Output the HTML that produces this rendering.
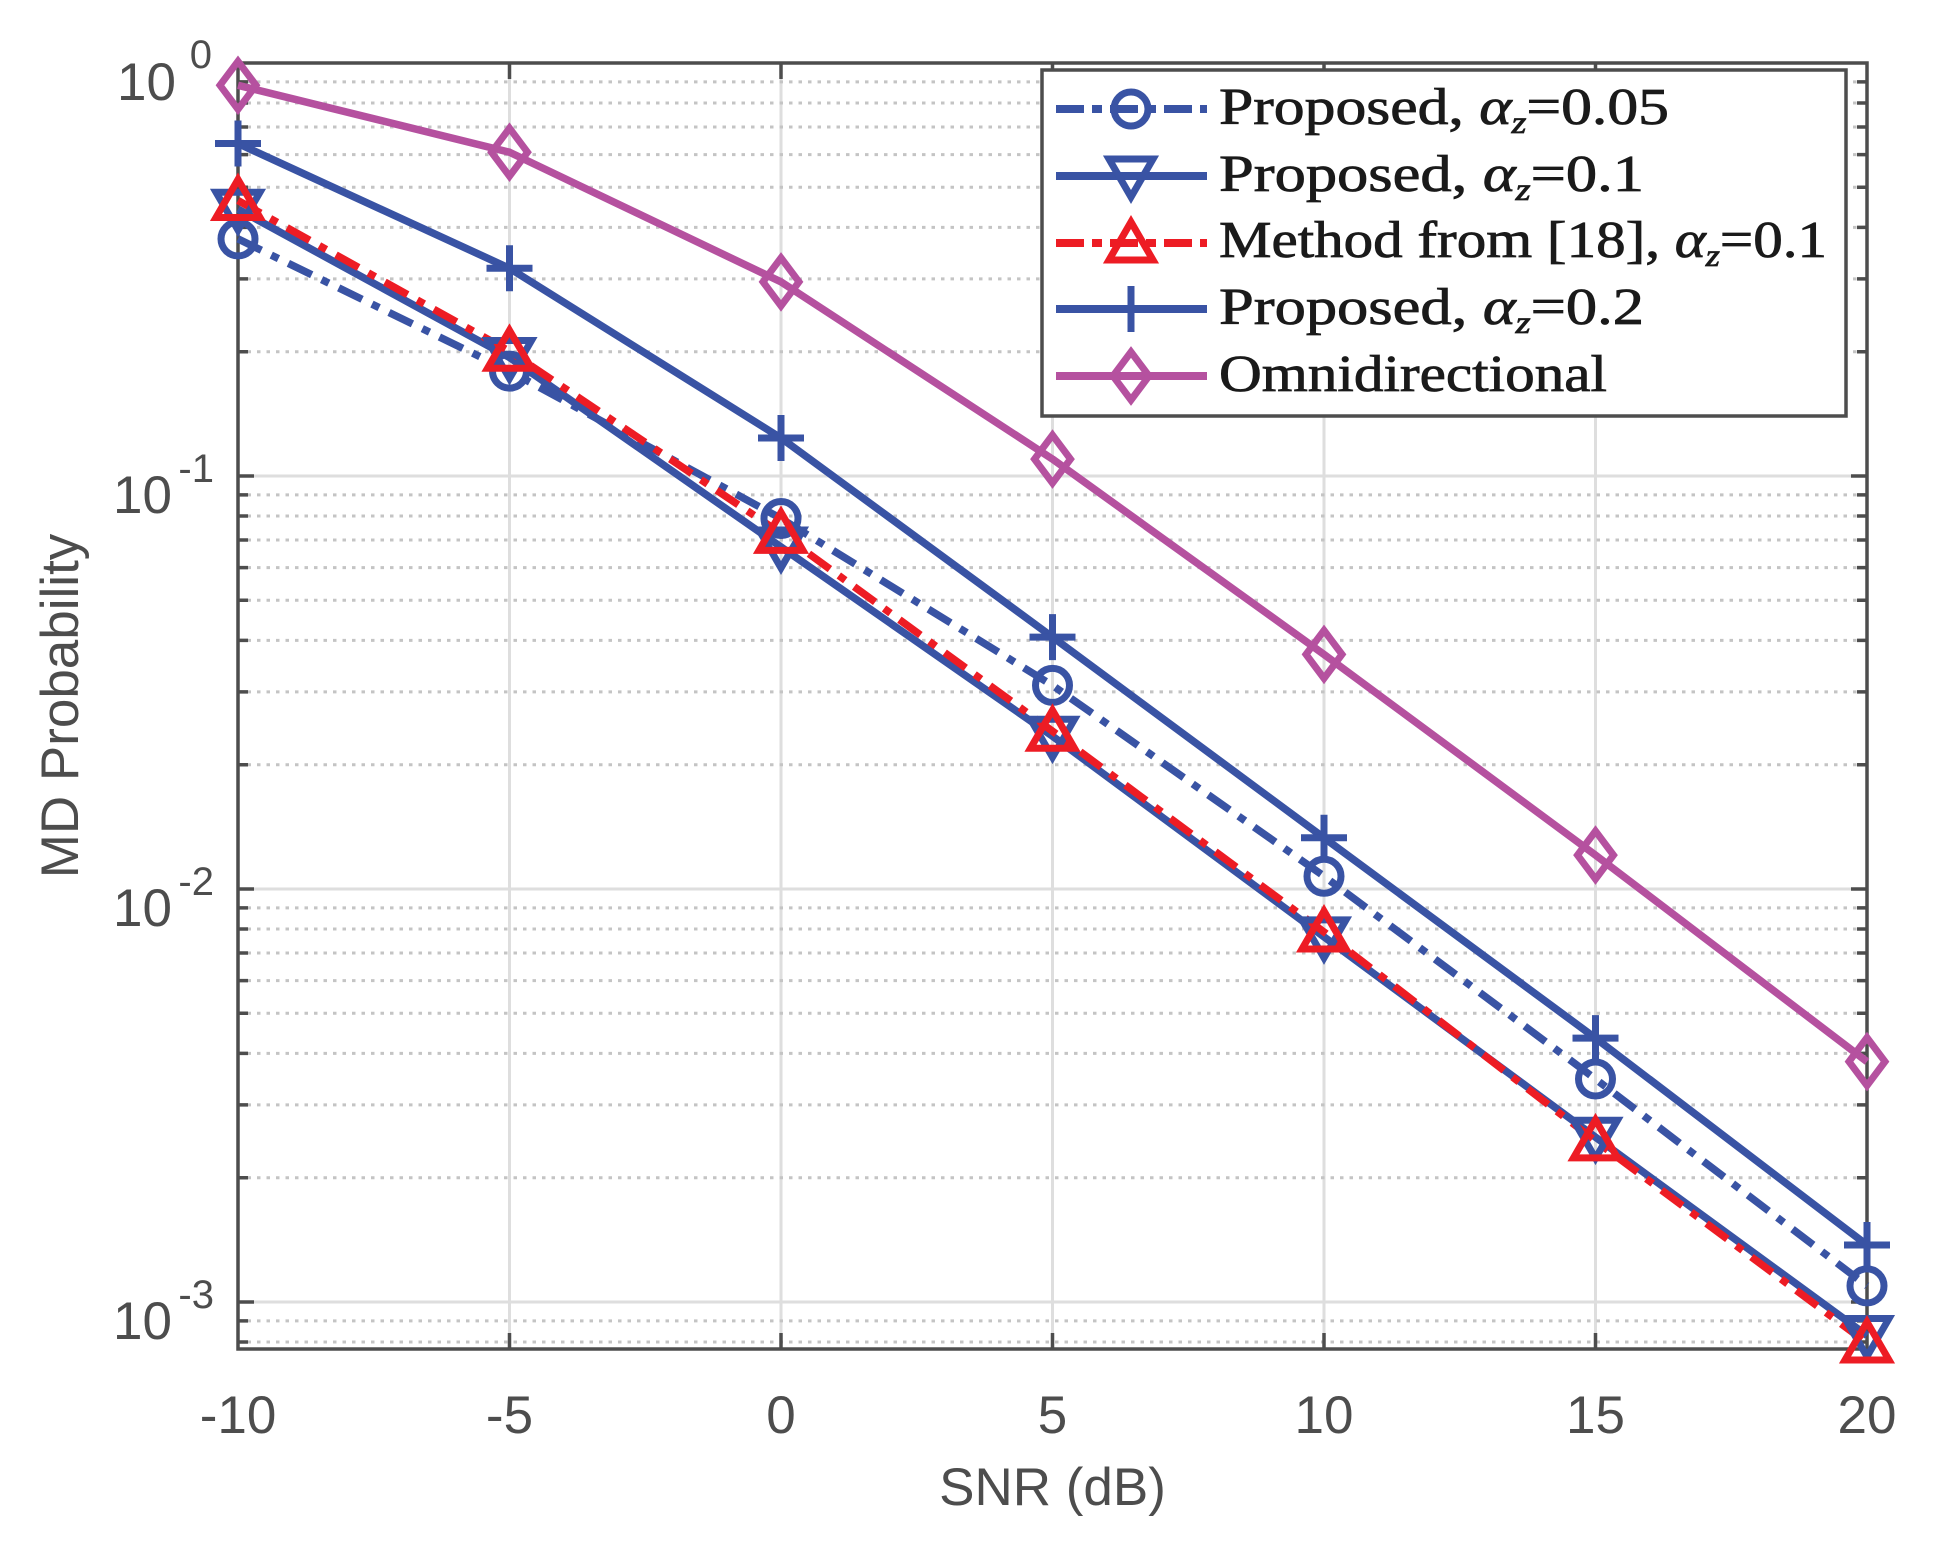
<!DOCTYPE html>
<html><head><meta charset="utf-8"><style>html,body{margin:0;padding:0;background:#fff}svg{display:block}</style></head>
<body>
<svg width="1939" height="1546" viewBox="0 0 1939 1546" xmlns="http://www.w3.org/2000/svg">
<defs>
<g id="minor" stroke="#c4c4c4" stroke-width="3" stroke-dasharray="3.5 6">
<line x1="238" x2="1867" y1="-124.3" y2="-124.3"/><line x1="238" x2="1867" y1="-197.1" y2="-197.1"/>
<line x1="238" x2="1867" y1="-248.6" y2="-248.6"/><line x1="238" x2="1867" y1="-288.7" y2="-288.7"/>
<line x1="238" x2="1867" y1="-321.4" y2="-321.4"/><line x1="238" x2="1867" y1="-349" y2="-349"/>
<line x1="238" x2="1867" y1="-373" y2="-373"/><line x1="238" x2="1867" y1="-394.1" y2="-394.1"/>
</g>
<g id="mtick" stroke="#4d4d4d" stroke-width="3.5">
<path d="M238 -124.3h10M238 -197.1h10M238 -248.6h10M238 -288.7h10M238 -321.4h10M238 -349h10M238 -373h10M238 -394.1h10"/>
<path d="M1867 -124.3h-10M1867 -197.1h-10M1867 -248.6h-10M1867 -288.7h-10M1867 -321.4h-10M1867 -349h-10M1867 -373h-10M1867 -394.1h-10"/>
</g>
<circle id="mc" r="17" fill="none" stroke="#3953a4" stroke-width="7"/>
<path id="md" d="M-22 -17H22L0 21Z" fill="none" stroke="#3953a4" stroke-width="7"/>
<path id="mu" d="M-22 17H22L0 -21Z" fill="none" stroke="#ed1c24" stroke-width="7"/>
<path id="mp" d="M-23 0H23M0 -23V23" stroke="#3953a4" stroke-width="7"/>
<path id="mo" d="M0 -24L18 0L0 24L-18 0Z" fill="none" stroke="#b5519f" stroke-width="7"/>
</defs>
<g stroke="#dedede" stroke-width="3">
<path d="M509.5 63V1349M781 63V1349M1052.5 63V1349M1324 63V1349M1595.5 63V1349"/>
<path d="M238 476H1867M238 889H1867M238 1302H1867"/>
</g>
<use href="#minor" transform="translate(0,476)"/>
<use href="#minor" transform="translate(0,889)"/>
<use href="#minor" transform="translate(0,1302)"/>
<g stroke="#c4c4c4" stroke-width="3" stroke-dasharray="3.5 6"><path d="M238 1320.9H1867M238 1342H1867"/></g>
<use href="#mtick" transform="translate(0,476)"/>
<use href="#mtick" transform="translate(0,889)"/>
<use href="#mtick" transform="translate(0,1302)"/>
<g stroke="#4d4d4d" stroke-width="3.5">
<path d="M238 1320.9h10M238 1342h10M1867 1320.9h-10M1867 1342h-10"/>
<path d="M238 476h16M238 889h16M238 1302h16M1867 476h-16M1867 889h-16M1867 1302h-16"/>
<path d="M509.5 1349v-16M781 1349v-16M1052.5 1349v-16M1324 1349v-16M1595.5 1349v-16M509.5 63v16M781 63v16M1052.5 63v16M1324 63v16M1595.5 63v16"/>
<rect x="238" y="63" width="1629" height="1286" fill="none"/>
</g>
<g fill="none" stroke-width="7.5" stroke-linejoin="round">
<polyline stroke="#b5519f" points="238,85.3 509.5,152.2 781,281.9 1052.5,459.1 1324,654.4 1595.5,855.1 1867,1061.6"/>
<polyline stroke="#3953a4" points="238,143.5 509.5,268.3 781,438 1052.5,637.1 1324,837.8 1595.5,1038.1 1867,1245"/>
<polyline stroke="#3953a4" stroke-dasharray="26 11 8 11" points="238,238.9 509.5,371.1 781,518.5 1052.5,685.4 1324,876.2 1595.5,1079 1867,1285.9"/>
<polyline stroke="#3953a4" points="238,209.2 509.5,357.5 781,547 1052.5,736.2 1324,936.9 1595.5,1137.2 1867,1335.5"/>
<polyline stroke="#ed1c24" stroke-dasharray="26 11 8 11" points="238,200.5 509.5,351.3 781,533.4 1052.5,731.2 1324,932 1595.5,1140.9 1867,1343"/>
</g>
<g>
<use href="#mo" x="238" y="85.3"/><use href="#mo" x="509.5" y="152.2"/><use href="#mo" x="781" y="281.9"/><use href="#mo" x="1052.5" y="459.1"/><use href="#mo" x="1324" y="654.4"/><use href="#mo" x="1595.5" y="855.1"/><use href="#mo" x="1867" y="1061.6"/>
<use href="#mp" x="238" y="143.5"/><use href="#mp" x="509.5" y="268.3"/><use href="#mp" x="781" y="438"/><use href="#mp" x="1052.5" y="637.1"/><use href="#mp" x="1324" y="837.8"/><use href="#mp" x="1595.5" y="1038.1"/><use href="#mp" x="1867" y="1245"/>
<use href="#mc" x="238" y="238.9"/><use href="#mc" x="509.5" y="371.1"/><use href="#mc" x="781" y="518.5"/><use href="#mc" x="1052.5" y="685.4"/><use href="#mc" x="1324" y="876.2"/><use href="#mc" x="1595.5" y="1079"/><use href="#mc" x="1867" y="1285.9"/>
<use href="#md" x="238" y="209.2"/><use href="#md" x="509.5" y="357.5"/><use href="#md" x="781" y="547"/><use href="#md" x="1052.5" y="736.2"/><use href="#md" x="1324" y="936.9"/><use href="#md" x="1595.5" y="1137.2"/><use href="#md" x="1867" y="1335.5"/>
<use href="#mu" x="238" y="200.5"/><use href="#mu" x="509.5" y="351.3"/><use href="#mu" x="781" y="533.4"/><use href="#mu" x="1052.5" y="731.2"/><use href="#mu" x="1324" y="932"/><use href="#mu" x="1595.5" y="1140.9"/><use href="#mu" x="1867" y="1343"/>
</g>
<g font-family="Liberation Sans, sans-serif" font-size="53" fill="#4d4d4d" text-anchor="middle">
<text x="238" y="1433">-10</text><text x="509.5" y="1433">-5</text><text x="781" y="1433">0</text><text x="1052.5" y="1433">5</text><text x="1324" y="1433">10</text><text x="1595.5" y="1433">15</text><text x="1867" y="1433">20</text>
<text x="1052.5" y="1505">SNR (dB)</text>
<text transform="translate(78,706) rotate(-90)">MD Probability</text>
</g>
<g font-family="Liberation Sans, sans-serif" fill="#4d4d4d" text-anchor="end">
<text x="176" y="100" font-size="53">10</text><text x="212" y="68" font-size="40">0</text>
<text x="172" y="513" font-size="53">10</text><text x="214" y="482" font-size="40">-1</text>
<text x="172" y="926" font-size="53">10</text><text x="214" y="895" font-size="40">-2</text>
<text x="172" y="1339" font-size="53">10</text><text x="214" y="1308" font-size="40">-3</text>
</g>
<rect x="1042" y="70" width="804" height="346" fill="#fff" stroke="#4d4d4d" stroke-width="3.5"/>
<g stroke-width="8" fill="none">
<line x1="1056" x2="1207" y1="109" y2="109" stroke="#3953a4" stroke-dasharray="28 8 10 8"/>
<line x1="1056" x2="1207" y1="176" y2="176" stroke="#3953a4"/>
<line x1="1056" x2="1207" y1="243" y2="243" stroke="#ed1c24" stroke-dasharray="28 8 10 8"/>
<line x1="1056" x2="1207" y1="309" y2="309" stroke="#3953a4"/>
<line x1="1056" x2="1207" y1="376" y2="376" stroke="#b5519f"/>
</g>
<use href="#mc" x="1131" y="109"/><use href="#md" x="1131" y="176"/><use href="#mu" x="1131" y="243"/><use href="#mp" x="1131" y="309"/><use href="#mo" x="1131" y="376"/>
<g font-family="Liberation Serif, serif" font-size="52" fill="#1a1a1a" stroke="#1a1a1a" stroke-width="0.8">
<text x="1219" y="124" textLength="450" lengthAdjust="spacingAndGlyphs">Proposed, <tspan font-style="italic">α</tspan><tspan font-style="italic" font-size="32" dy="9">z</tspan><tspan dy="-9">=0.05</tspan></text>
<text x="1219" y="191" textLength="425" lengthAdjust="spacingAndGlyphs">Proposed, <tspan font-style="italic">α</tspan><tspan font-style="italic" font-size="32" dy="9">z</tspan><tspan dy="-9">=0.1</tspan></text>
<text x="1219" y="257" textLength="608" lengthAdjust="spacingAndGlyphs">Method from [18], <tspan font-style="italic">α</tspan><tspan font-style="italic" font-size="32" dy="9">z</tspan><tspan dy="-9">=0.1</tspan></text>
<text x="1219" y="324" textLength="425" lengthAdjust="spacingAndGlyphs">Proposed, <tspan font-style="italic">α</tspan><tspan font-style="italic" font-size="32" dy="9">z</tspan><tspan dy="-9">=0.2</tspan></text>
<text x="1219" y="391" textLength="388" lengthAdjust="spacingAndGlyphs">Omnidirectional</text>
</g>
</svg>
</body></html>
